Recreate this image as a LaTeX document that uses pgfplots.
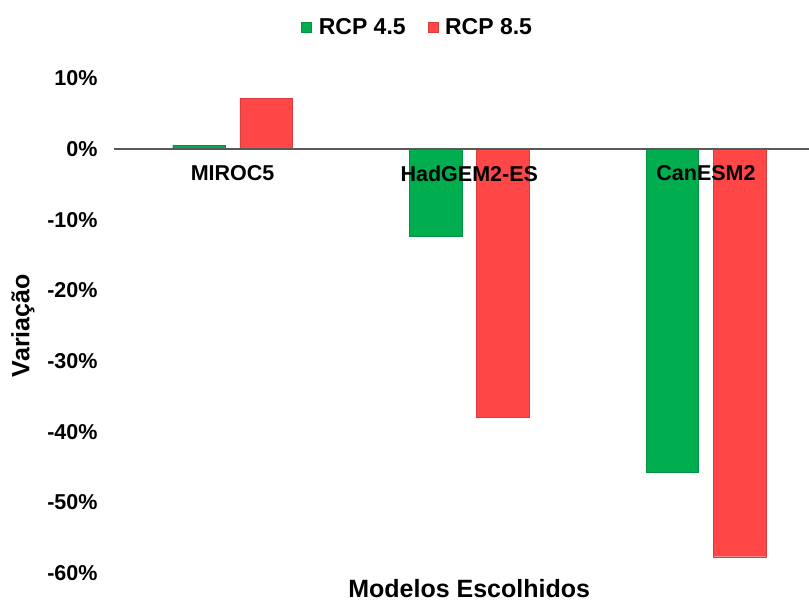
\documentclass[border=0pt]{standalone}
\usepackage{pgfplots}
\pgfplotsset{compat=1.18}
\usepackage{fontspec}
\setmainfont{Liberation Sans}
\definecolor{g45}{HTML}{00AD4F}
\definecolor{r85}{HTML}{FF4747}
\definecolor{axgray}{HTML}{595959}
\newcommand\tickfont{\fontsize{21.5}{25}\selectfont\bfseries}
\newcommand\labfont{\fontsize{25}{29}\selectfont\bfseries}
\newcommand\legfont{\fontsize{23}{26}\selectfont\bfseries}
\begin{document}
\begin{tikzpicture}[x=1pt,y=1pt]
\path[use as bounding box] (0,0) rectangle (809,602);
\begin{axis}[
  at={(114pt,29pt)}, anchor=south west,
  scale only axis, width=695pt, height=494.7pt,
  xmin=-0.501, xmax=2.435, ymin=-60, ymax=10,
  enlargelimits=false,
  axis on top,
  axis x line*=middle, axis y line*=left,
  hide obscured x ticks=false, hide obscured y ticks=false,
  x axis line style={draw=axgray, line width=1.5pt},
  y axis line style={draw=none},
  major tick length=0pt,
  xtick={0,1,2}, xticklabels={MIROC5,HadGEM2-ES,CanESM2},
  ytick={-60,-50,-40,-30,-20,-10,0,10},
  /pgf/number format/assume math mode=true,
  yticklabel={\pgfmathprintnumber{\tick}\%},
  ticklabel style={font=\tickfont, text=black},
  y tick label style={xshift=-13pt},
  x tick label style={yshift=-13pt},
  every axis x label/.style={at={(rel axis cs:0.511,-0.0505)}, anchor=base, font=\labfont},
  every axis y label/.style={at={(rel axis cs:-0.131,0.5)}, rotate=90, anchor=center, font=\labfont},
  xlabel={Modelos Escolhidos},
  ylabel={Variação},
  legend style={at={(rel axis cs:0.437,1.104)}, anchor=center, draw=none, fill=none,
    legend columns=2, font=\legfont,
    /tikz/every even column/.append style={column sep=20pt}},
  legend image code/.code={\draw[#1] (0pt,-5pt) rectangle (10pt,5pt); \path (15pt,0pt);},
]
\addplot[ybar, bar width=0.222, bar shift=-0.142, fill=g45, draw=g45!85!black]
  coordinates {(0,0.5) (1,-12.4) (2,-45.8)};
\addplot[ybar, bar width=0.222, bar shift=0.142, fill=r85, draw=r85!85!black]
  coordinates {(0,7.2) (1,-37.9) (2,-57.7)};
\legend{RCP 4.5, RCP 8.5}
\end{axis}
\end{tikzpicture}
\end{document}
